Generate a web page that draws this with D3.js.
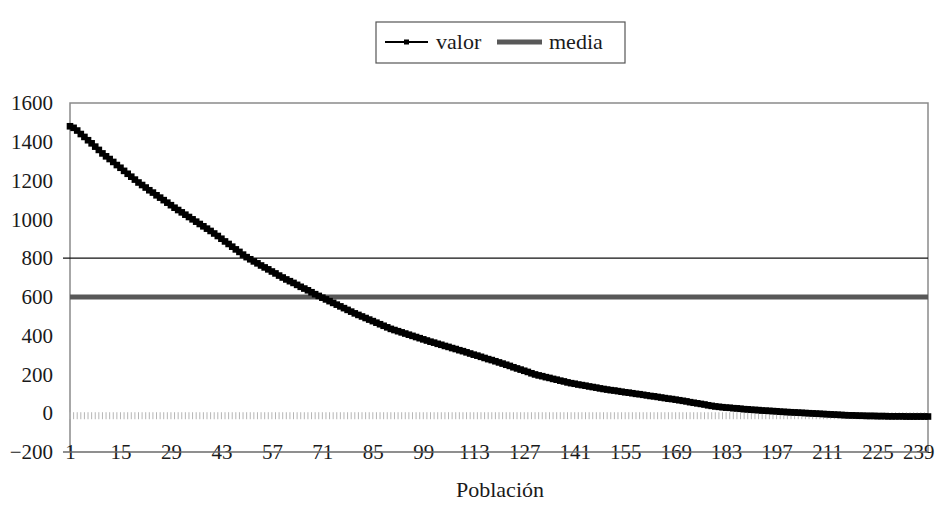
<!DOCTYPE html>
<html>
<head>
<meta charset="utf-8">
<script src="https://cdn.jsdelivr.net/npm/d3@7"></script>
<style>
  html, body { margin: 0; padding: 0; background: #fff; }
  svg { display: block; }
  svg text { font-family: "Liberation Serif", "DejaVu Serif", "Times New Roman", Times, serif !important; fill: #1a1a1a; }
</style>
</head>
<body>
<svg id="chart" width="935" height="515"></svg>
<script>
// ---- data ----
const categories = d3.range(1, 240); // Población 1..239
const valor = [
  1480,1472,1458,1440,1425,1408,1392,1375,1358,1340,
  1325,1311,1296,1280,1266,1250,1235,1220,1205,1190,
  1177,1164,1150,1138,1124,1112,1099,1086,1073,1060,
  1048,1036,1024,1012,1000,988,976,964,952,940,
  927,914,900,886,873,859,845,832,818,805,
  794,783,773,762,752,742,731,721,710,700,
  690,681,672,662,652,643,634,624,614,605,
  596,587,578,569,560,551,542,533,524,515,
  507,499,491,483,475,467,459,451,443,435,
  429,423,417,411,405,399,393,387,381,375,
  369,364,358,353,347,342,336,331,325,320,
  314,308,302,297,291,285,279,274,268,262,
  256,250,244,237,231,225,219,213,206,200,
  195,191,186,182,177,173,168,164,159,155,
  152,148,145,142,138,135,132,128,125,122,
  119,117,114,111,108,106,103,100,98,95,
  92,89,87,84,81,78,75,73,70,67,
  64,61,57,54,51,48,45,41,38,35,
  33,31,29,28,26,25,23,21,20,18,
  17,16,14,13,12,11,10,8,7,6,
  5,4,3,2,1,0,-1,-2,-3,-4,
  -5,-6,-7,-8,-9,-10,-11,-11,-12,-13,
  -13,-14,-14,-14,-15,-15,-15,-16,-16,-16,
  -16,-16,-17,-17,-17,-17,-17,-17,-17
];
const mediaValue = 600;
const refLineValue = 800;
const zeroValue = 0;
const xTickLabels = [1,15,29,43,57,71,85,99,113,127,141,155,169,183,197,211,225,239];
const yTickLabels = [-200,0,200,400,600,800,1000,1200,1400,1600];
const legendLabels = ["valor", "media"];
const xTitle = "Población";

// ---- layout ----
const svg = d3.select("#chart");
const pL = 70, pR = 928, pT = 103, pB = 452;
const FONT = '"Liberation Serif", "DejaVu Serif", "Times New Roman", serif';

const x = d3.scalePoint().domain(categories).range([pL, pR]);
const y = d3.scaleLinear().domain([-200, 1600]).range([pB, pT]);

// plot frame (top, left, right)
svg.append("path")
  .attr("d", `M${pL},${pB} V${pT} H${pR} V${pB}`)
  .attr("fill", "none").attr("stroke", "#8a8a8a").attr("stroke-width", 1.5);

// zero series: small gray vertical marks
svg.append("g").selectAll("line").data(categories).join("line")
  .attr("x1", d => x(d)).attr("x2", d => x(d))
  .attr("y1", y(zeroValue) - 1).attr("y2", y(zeroValue) + 6)
  .attr("stroke", "#b5b5b5").attr("stroke-width", 1);

// x axis (at -200), labels centred on axis line
const xAxis = d3.axisBottom(x).tickValues(xTickLabels).tickSize(0).tickPadding(0).tickFormat(d3.format("d"));
const gx = svg.append("g").attr("transform", `translate(0,${pB})`).call(xAxis)
  .attr("font-family", FONT).attr("font-size", 21);
gx.select(".domain").remove();
gx.selectAll("text")
  .attr("y", 0).attr("dy", "0.35em").attr("fill", "#1a1a1a");
gx.selectAll(".tick").filter(d => d === 239).select("text")
  .attr("text-anchor", "end").attr("x", 934 - x(239));
svg.append("line")
  .attr("x1", 63).attr("x2", pR)
  .attr("y1", pB).attr("y2", pB)
  .attr("stroke", "#6a6a6a").attr("stroke-width", 1.3);

// y axis labels
const yAxis = d3.axisLeft(y).tickValues(yTickLabels).tickSize(0).tickPadding(17).tickFormat(d3.format("d"));
const gy = svg.append("g").attr("transform", `translate(${pL},0)`).call(yAxis)
  .attr("font-family", FONT).attr("font-size", 21);
gy.select(".domain").remove();
gy.selectAll("text").attr("fill", "#1a1a1a");

// reference line at 800
svg.append("line")
  .attr("x1", 63).attr("x2", pR)
  .attr("y1", y(refLineValue)).attr("y2", y(refLineValue))
  .attr("stroke", "#111").attr("stroke-width", 1.3);

// media line
svg.append("line")
  .attr("x1", pL).attr("x2", pR)
  .attr("y1", y(mediaValue)).attr("y2", y(mediaValue))
  .attr("stroke", "#585858").attr("stroke-width", 5);

// valor line + square markers
const data = categories.map((c, i) => ({c, v: valor[i]}));
svg.append("path").datum(data)
  .attr("d", d3.line().x(d => x(d.c)).y(d => y(d.v)))
  .attr("fill", "none").attr("stroke", "#000").attr("stroke-width", 3);
svg.append("g").selectAll("rect").data(data).join("rect")
  .attr("x", d => x(d.c) - 3.3).attr("y", d => y(d.v) - 3.3)
  .attr("width", 6.6).attr("height", 6.6).attr("fill", "#000");

// x title
svg.append("text").attr("x", 500).attr("y", 497).attr("text-anchor", "middle")
  .attr("font-family", FONT).attr("font-size", 22).text(xTitle);

// legend
const lg = svg.append("g").attr("font-family", FONT).attr("font-size", 22);
lg.append("rect").attr("x", 376).attr("y", 22).attr("width", 249).attr("height", 41)
  .attr("fill", "#fff").attr("stroke", "#555").attr("stroke-width", 1.2);
lg.append("line").attr("x1", 385).attr("x2", 428).attr("y1", 42).attr("y2", 42)
  .attr("stroke", "#000").attr("stroke-width", 2);
lg.append("rect").attr("x", 404).attr("y", 39.5).attr("width", 5).attr("height", 5).attr("fill", "#000");
lg.append("text").attr("x", 436).attr("y", 49).text(legendLabels[0]);
lg.append("line").attr("x1", 497).attr("x2", 542).attr("y1", 42).attr("y2", 42)
  .attr("stroke", "#585858").attr("stroke-width", 5);
lg.append("text").attr("x", 549).attr("y", 49).text(legendLabels[1]);
</script>
</body>
</html>
